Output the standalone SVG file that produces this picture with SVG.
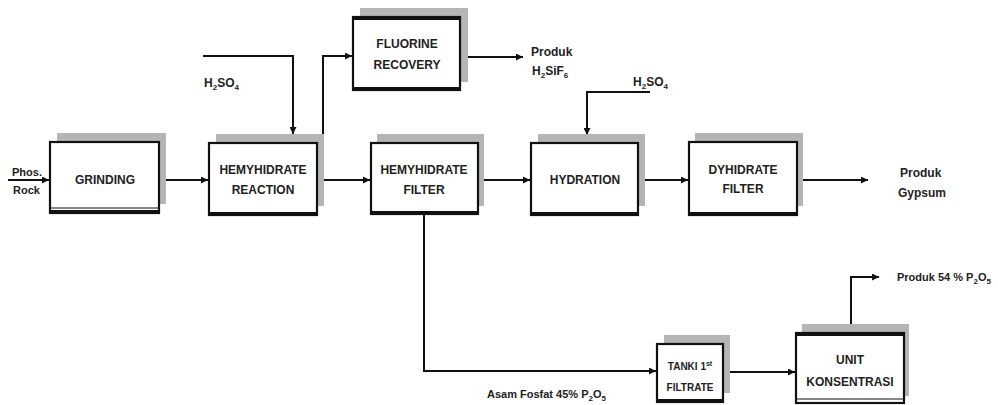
<svg xmlns="http://www.w3.org/2000/svg" width="998" height="405" viewBox="0 0 998 405">
<defs>
<marker id="arr" viewBox="0 0 10 10" refX="10" refY="5" markerWidth="7" markerHeight="7" markerUnits="userSpaceOnUse" orient="auto">
<path d="M0,0 L10,5 L0,10 z" fill="#111"/>
</marker>
</defs>
<style>
.shadow{fill:#b5b5b5;stroke:none}
.box{fill:#ffffff;stroke:#111;stroke-width:2.2}
.bot{stroke:#111;stroke-width:4;fill:none}
.t{font-family:"Liberation Sans",Arial,sans-serif;font-weight:bold;font-size:12px;fill:#222;text-anchor:middle}
.l{font-family:"Liberation Sans",Arial,sans-serif;font-weight:bold;font-size:12px;fill:#222}
.sm{font-size:11px}
.s{font-size:8px}
.c{fill:none;stroke:#111;stroke-width:2}
</style>
<rect width="998" height="405" fill="#ffffff"/>

<g id="connectors">
<path class="c" d="M8,180 H49" marker-end="url(#arr)"/>
<path class="c" d="M159,180 H208" marker-end="url(#arr)"/>
<path class="c" d="M317,180 H370" marker-end="url(#arr)"/>
<path class="c" d="M478,180 H530" marker-end="url(#arr)"/>
<path class="c" d="M638,180 H688" marker-end="url(#arr)"/>
<path class="c" d="M797,180 H868" marker-end="url(#arr)"/>
<path class="c" d="M203,56 H293 V134" marker-end="url(#arr)"/>
<path class="c" d="M323,134 V56 H352" marker-end="url(#arr)"/>
<path class="c" d="M460,57 H523" marker-end="url(#arr)"/>
<path class="c" d="M650,92 H587 V135" marker-end="url(#arr)"/>
<path class="c" d="M424,214 V371 H656" marker-end="url(#arr)"/>
<path class="c" d="M723,372 H795" marker-end="url(#arr)"/>
<path class="c" d="M851,325 V277 H879" marker-end="url(#arr)"/>
</g>

<g id="labels">
<text class="l sm" x="12" y="176">Phos.</text>
<text class="l sm" x="13" y="194">Rock</text>
<text class="l" x="204" y="87">H<tspan class="s" dy="3">2</tspan><tspan dy="-3">SO</tspan><tspan class="s" dy="3">4</tspan></text>
<text class="l" x="531" y="56">Produk</text>
<text class="l" x="532" y="75">H<tspan class="s" dy="3">2</tspan><tspan dy="-3">SiF</tspan><tspan class="s" dy="3">6</tspan></text>
<text class="l" x="633" y="86">H<tspan class="s" dy="3">2</tspan><tspan dy="-3">SO</tspan><tspan class="s" dy="3">4</tspan></text>
<text class="l" x="900" y="177">Produk</text>
<text class="l" x="898" y="197">Gypsum</text>
<text class="l sm" x="897" y="281">Produk 54 % P<tspan class="s" dy="3">2</tspan><tspan dy="-3">O</tspan><tspan class="s" dy="3">5</tspan></text>
<text class="l sm" x="487" y="398">Asam Fosfat 45% P<tspan class="s" dy="3">2</tspan><tspan dy="-3">O</tspan><tspan class="s" dy="3">5</tspan></text>
</g>

<g id="grinding">
<rect class="shadow" x="57" y="133" width="109" height="71"/>
<rect class="box" x="50" y="142" width="109" height="71"/>
<line class="bot" x1="49" y1="212" x2="160" y2="212"/>
<line stroke="#111" stroke-width="1.2" x1="50" y1="208" x2="159" y2="208"/>
<text class="t" x="105" y="184">GRINDING</text>
</g>

<g id="hemyhidrate-reaction">
<rect class="shadow" x="216" y="134" width="108" height="72"/>
<rect class="box" x="209" y="143" width="108" height="72"/>
<line class="bot" x1="208" y1="214" x2="318" y2="214"/>
<text class="t" x="263" y="174">HEMYHIDRATE</text>
<text class="t" x="263" y="194">REACTION</text>
</g>

<g id="fluorine-recovery">
<rect class="shadow" x="360" y="8" width="108" height="74"/>
<rect class="box" x="353" y="17" width="107" height="73"/>
<line class="bot" x1="352" y1="89" x2="461" y2="89"/>
<line class="bot" x1="352" y1="18" x2="461" y2="18"/>
<text class="t" x="407" y="48">FLUORINE</text>
<text class="t" x="407" y="69">RECOVERY</text>
</g>

<g id="hemyhidrate-filter">
<rect class="shadow" x="377" y="134" width="107" height="72"/>
<rect class="box" x="371" y="143" width="107" height="71"/>
<line class="bot" x1="370" y1="213" x2="479" y2="213"/>
<text class="t" x="424" y="174">HEMYHIDRATE</text>
<text class="t" x="424" y="194">FILTER</text>
</g>

<g id="hydration">
<rect class="shadow" x="538" y="134" width="107" height="72"/>
<rect class="box" x="531" y="143" width="107" height="72"/>
<line class="bot" x1="530" y1="214" x2="639" y2="214"/>
<text class="t" x="585" y="184">HYDRATION</text>
</g>

<g id="dyhidrate-filter">
<rect class="shadow" x="695" y="133" width="108" height="73"/>
<rect class="box" x="689" y="142" width="108" height="73"/>
<line class="bot" x1="688" y1="214" x2="798" y2="214"/>
<text class="t" x="743" y="174">DYHIDRATE</text>
<text class="t" x="743" y="193">FILTER</text>
</g>

<g id="tanki-filtrate">
<rect class="shadow" x="664" y="335" width="66" height="58"/>
<rect class="box" x="657" y="344" width="66" height="58"/>
<line class="bot" x1="656" y1="401" x2="724" y2="401"/>
<text class="t" x="690" y="370" style="font-size:10px">TANKI 1<tspan dy="-4" style="font-size:7px">st</tspan></text>
<text class="t" x="690" y="391" style="font-size:10px">FILTRATE</text>
</g>

<g id="unit-konsentrasi">
<rect class="shadow" x="802" y="324" width="107" height="72"/>
<rect class="box" x="796" y="333" width="108" height="70"/>
<line class="bot" x1="795" y1="334" x2="905" y2="334"/>
<line stroke="#111" stroke-width="1.2" x1="796" y1="399" x2="904" y2="399"/>
<text class="t" x="850" y="364">UNIT</text>
<text class="t" x="850" y="386">KONSENTRASI</text>
</g>
</svg>
